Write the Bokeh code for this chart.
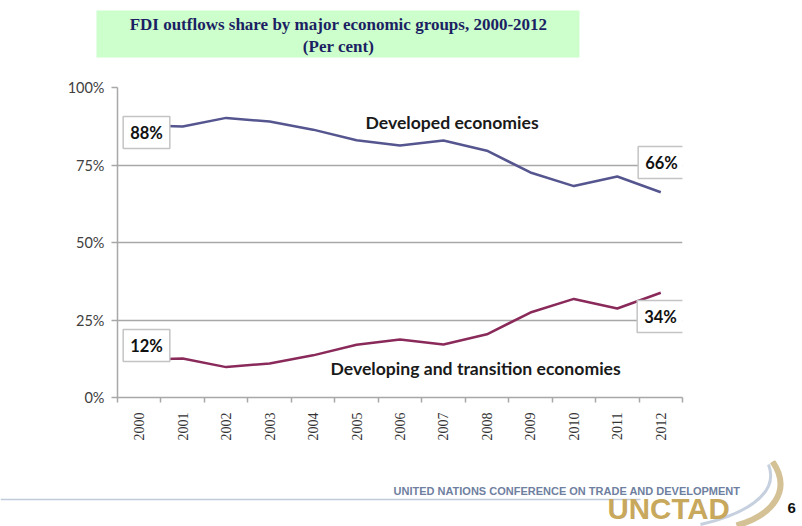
import math
from bokeh.plotting import figure
from bokeh.layouts import column
from bokeh.models import FixedTicker, Label, Range1d
from bokeh.core.properties import value
from bokeh.embed import file_html
from bokeh.resources import INLINE

# ---- data ----
years = [2000, 2001, 2002, 2003, 2004, 2005, 2006, 2007, 2008, 2009, 2010, 2011, 2012]
developed = [87.8, 87.4, 90.2, 89.0, 86.4, 83.0, 81.3, 82.9, 79.6, 72.6, 68.2, 71.3, 66.2]
developing = [12.2, 12.6, 9.8, 11.0, 13.6, 17.0, 18.7, 17.1, 20.4, 27.4, 31.8, 28.7, 33.8]
y_ticks = [0, 25, 50, 75, 100]
y_tick_labels = ["0%", "25%", "50%", "75%", "100%"]
title_lines = ["FDI outflows share by major economic groups, 2000-2012", "(Per cent)"]
series_names = ["Developed economies", "Developing and transition economies"]
footer_text = "UNITED NATIONS CONFERENCE ON TRADE AND DEVELOPMENT"
logo_text = "UNCTAD"
page_number = "6"

DEV_COLOR = "#55558f"
DVG_COLOR = "#8a2a5a"
GRID = "#a8a8a8"
W = 802


def blank(height, y0, y1):
    f = figure(width=W, height=height, frame_width=W, frame_height=height,
               output_backend="svg", toolbar_location=None,
               x_range=Range1d(0, W), y_range=Range1d(y1, y0),
               min_border=0, min_border_left=0, min_border_right=0,
               min_border_top=0, min_border_bottom=0)
    f.axis.visible = False
    f.grid.grid_line_color = None
    f.outline_line_color = None
    f.background_fill_color = "white"
    f.border_fill_color = "white"
    return f


# ---- title strip ----
top = blank(70, 0, 70)
top.quad(left=[96], right=[579], top=[10], bottom=[57], fill_color="#ccffcc", line_color=None)
top.text(x=[338, 338], y=[24, 46], text=title_lines, text_align="center", text_baseline="middle",
         text_font=value("Liberation Serif"), text_font_style="bold", text_font_size="17px",
         text_color="#1c1f63")

# ---- main chart ----
p = figure(width=W, height=390, output_backend="svg", toolbar_location=None,
           frame_width=565, frame_height=310,
           min_border_left=117, min_border_right=120, min_border_top=17, min_border_bottom=63,
           x_range=Range1d(years[0] - 0.5, years[-1] + 0.5), y_range=Range1d(0, 100))
p.outline_line_color = None
p.background_fill_color = "white"
p.border_fill_color = "white"

p.xaxis.ticker = FixedTicker(ticks=years, minor_ticks=[y - 0.5 for y in years] + [years[-1] + 0.5])
p.xaxis.major_label_overrides = {y: str(y) for y in years}
p.xaxis.major_label_orientation = math.pi / 2
p.xaxis.major_tick_in = 0
p.xaxis.major_tick_out = 0
p.xaxis.minor_tick_in = 0
p.xaxis.minor_tick_out = 5
p.xaxis.minor_tick_line_color = GRID
p.xaxis.minor_tick_line_width = 1.5
p.xaxis.axis_line_color = GRID
p.xaxis.axis_line_width = 1.5
p.xaxis.major_label_text_font = "Liberation Serif"
p.xaxis.major_label_text_font_size = "14px"
p.xaxis.major_label_text_color = "#333333"
p.xaxis.major_label_standoff = 10

p.yaxis.ticker = FixedTicker(ticks=y_ticks)
p.yaxis.major_label_overrides = dict(zip(y_ticks, y_tick_labels))
p.yaxis.major_tick_in = 0
p.yaxis.major_tick_out = 6
p.yaxis.minor_tick_out = 0
p.yaxis.minor_tick_in = 0
p.yaxis.major_tick_line_color = GRID
p.yaxis.major_tick_line_width = 1.5
p.yaxis.axis_line_color = GRID
p.yaxis.axis_line_width = 1.5
p.yaxis.major_label_text_font = "Lato"
p.yaxis.major_label_text_font_size = "14.5px"
p.yaxis.major_label_text_color = "#404040"
p.yaxis.major_label_standoff = 7

p.xgrid.grid_line_color = None
p.ygrid.grid_line_color = GRID
p.ygrid.grid_line_width = 1.5

p.line(years, developed, line_color=DEV_COLOR, line_width=2.5)
p.line(years, developing, line_color=DVG_COLOR, line_width=2.5)

# series labels (screen units relative to the plot frame, y from bottom)
p.add_layout(Label(x=248, y=275, x_units="screen", y_units="screen", text=series_names[0],
                   text_font="Lato", text_font_style="bold", text_font_size="17.6px",
                   text_color="#1a1a1a", text_baseline="middle"))
p.add_layout(Label(x=213, y=29, x_units="screen", y_units="screen", text=series_names[1],
                   text_font="Lato", text_font_style="bold", text_font_size="17.6px",
                   text_color="#1a1a1a", text_baseline="middle"))


def value_box(x, y, v):
    p.add_layout(Label(x=x, y=y, x_units="screen", y_units="screen", text=f"{round(v)}%",
                       text_font="Lato", text_font_style="bold", text_font_size="16.5px",
                       text_color="#111111", text_align="center", text_baseline="middle",
                       background_fill_color="white", border_line_color="#c4c4c4",
                       border_line_width=1.5, padding=(7, 6)))


value_box(29, 265, developed[0])
value_box(544, 235, developed[-1])
value_box(29, 52, developing[0])
value_box(543, 81, developing[-1])

# ---- footer strip ----
bot = blank(66, 460, 526)
bot.segment(x0=[0], y0=[499], x1=[640], y1=[499], line_color="#bfcbd9", line_width=1.5)
bot.bezier(x0=[772], y0=[461], x1=[736], y1=[525], cx0=[792], cy0=[490], cx1=[772], cy1=[515],
           line_color="#c9b27a", line_width=6, line_alpha=0.8)
bot.bezier(x0=[768], y0=[464], x1=[700], y1=[524], cx0=[780], cy0=[495], cx1=[740], cy1=[515],
           line_color="#b8c4d6", line_width=3, line_alpha=0.8)
bot.text(x=[393], y=[490], text=[footer_text], text_baseline="middle",
         text_font=value("Liberation Sans"), text_font_style="bold", text_font_size="11px",
         text_color="#6f7f9f")
bot.text(x=[607], y=[508], text=[logo_text], text_baseline="middle",
         text_font=value("Liberation Sans"), text_font_style="bold", text_font_size="29.5px",
         text_color="#c8a85c")
bot.text(x=[787], y=[507], text=[page_number], text_baseline="middle",
         text_font=value("Liberation Sans"), text_font_style="bold", text_font_size="15px",
         text_color="#111111")

layout = column(column(top), column(p), column(bot), spacing=0)
open("out.html", "w").write(file_html(layout, INLINE))
